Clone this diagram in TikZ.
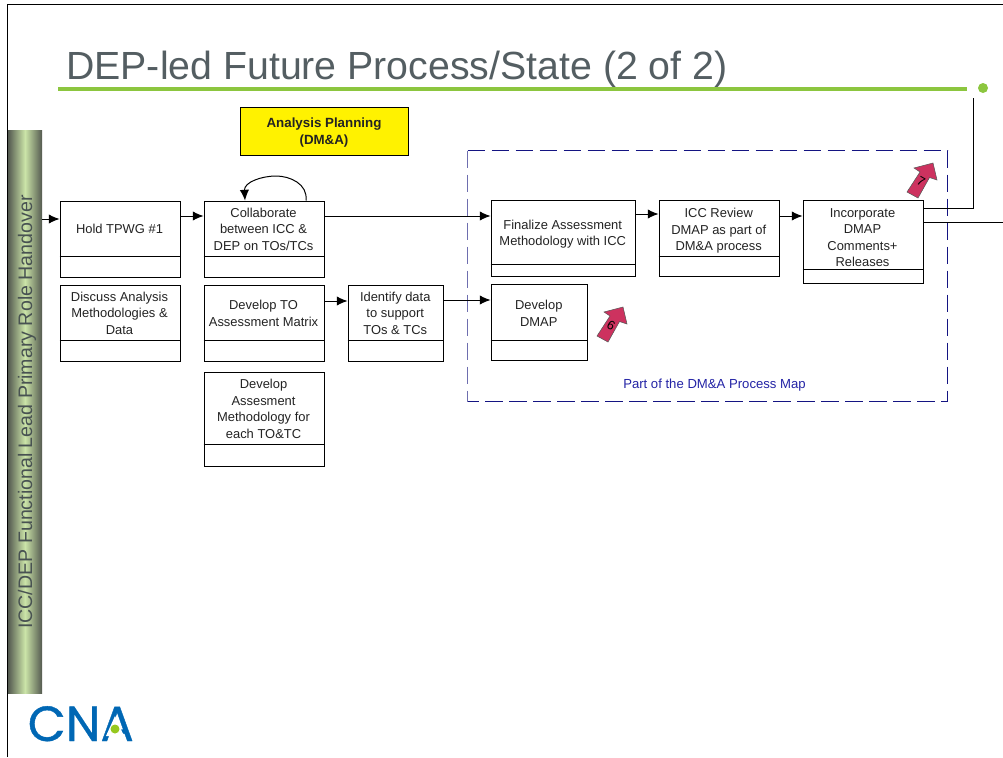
\documentclass[tikz,border=0pt]{standalone}
\usepackage{fontspec}
\setmainfont{Liberation Sans}
\newfontfamily\logofont[FakeBold=0.8]{Poppins}
\usetikzlibrary{arrows.meta}
\definecolor{titlegrey}{RGB}{84,94,98}
\definecolor{rulegreen}{RGB}{140,198,63}
\definecolor{boxtext}{RGB}{35,35,35}
\definecolor{navyline}{RGB}{20,20,130}
\definecolor{paleline}{RGB}{110,110,175}
\definecolor{mapblue}{RGB}{35,35,165}
\definecolor{bandedge}{RGB}{84,90,80}
\definecolor{bandmid}{RGB}{203,228,168}
\definecolor{bandtext}{RGB}{72,82,82}
\definecolor{cnablue}{RGB}{0,103,180}
\definecolor{cnagreen}{RGB}{150,200,30}
\definecolor{badge}{RGB}{205,50,95}
\tikzset{
  boxshape/.style={draw=black,line width=0.75pt,fill=white,inner sep=0pt,anchor=north west},
  boxlabel/.style={font=\fontsize{9.7}{12.4}\selectfont,text=boxtext,align=center,inner sep=0pt},
  flow/.style={draw=black,line width=0.75pt,-{Latex[length=8pt,width=7pt]}},
  plainline/.style={draw=black,line width=0.75pt},
  mapframe/.style={line width=0.9pt,dash pattern=on 13pt off 5pt},
  badgearrow/.style={fill=badge,draw=black!65,line width=0.4pt},
  badgenum/.style={font=\fontsize{9.5}{10}\selectfont,text=black,inner sep=0pt,rotate=-30},
}
% name, x1, y1, x2, y2, divider y, text offset, text
\newcommand{\procbox}[8]{%
  \pgfmathsetmacro{\bw}{(#4-#2)*0.75}%
  \pgfmathsetmacro{\bh}{(#5-#3)*0.75}%
  \pgfmathsetmacro{\bc}{(#3+#6)/2+1+#7}%
  \pgfmathsetmacro{\bm}{(#2+#4)/2}%
  \node[boxshape,minimum width=\bw pt,minimum height=\bh pt] (#1) at (#2,#3) {};
  \draw[plainline] (#1.west |- 0,#6) -- (#1.east |- 0,#6);
  \node[boxlabel] (#1-text) at (\bm,\bc) {#8};
}
% name, dx, dy, digit
\newcommand{\badgearrow}[4]{%
  \begin{scope}[shift={(#2,#3)}]
    \fill[badgearrow] (623,307) -- (604,312) -- (610,316) -- (597,336) -- (608,342) -- (619.5,321.5) -- (627,324) -- cycle;
    \node[badgenum] (#1) at (611,325) {#4};
  \end{scope}
}
\begin{document}
\begin{tikzpicture}[x=0.75pt,y=-0.75pt]
\useasboundingbox (0,0) rectangle (1003,757);
% slide border
\draw[line width=0.75pt] (7,757) -- (7,4.5) -- (1003,4.5);
% title
\node[anchor=base west,inner sep=0pt,font=\fontsize{29.45}{36}\selectfont,text=titlegrey] (title) at (66,79) {DEP-led Future Process/State (2 of 2)};
\coordinate (ruleL) at (58,89);
\coordinate (ruleR) at (967,89);
\draw[rulegreen,line width=3pt] (ruleL) -- (ruleR);
\fill[rulegreen] (983,88) circle (5);
% band
\shade[left color=bandedge,right color=bandedge,middle color=bandmid] (8,130) rectangle (42,693);
\node[rotate=90,font=\fontsize{14.7}{16}\selectfont,text=bandtext,inner sep=0pt] (band) at (27,412) {ICC/DEP Functional Lead Primary Role Handover};
\coordinate (bandout) at (42,219);
% yellow box
\node[draw=black,line width=0.75pt,fill=yellow,inner sep=0pt,anchor=north west,minimum width=126pt,minimum height=36pt] (plan) at (239.5,106.5) {};
\node[align=center,inner sep=0pt,font=\fontsize{10}{12.4}\selectfont\bfseries,text=boxtext] (plan-text) at (324,132.5) {Analysis Planning\\(DM\&A)};
% dashed frame
\draw[navyline,mapframe] (467.5,150.5) -- (947.5,150.5) -- (947.5,401.5) -- (467.5,401.5);
\draw[paleline,mapframe] (467.5,150.5) -- (467.5,401.5);
\node[font=\fontsize{9.85}{11}\selectfont,text=mapblue,inner sep=0pt] (maplabel) at (714.5,385) {Part of the DM\&A Process Map};
% boxes
\begin{scope}[shift={(-1,-1)}]
\procbox{hold}{60.5}{201.5}{180.5}{278}{257}{0}{Hold TPWG \#1}
\procbox{collab}{204.5}{201.5}{324.5}{278}{257}{0}{Collaborate\\between ICC \&\\DEP on TOs/TCs}
\procbox{discuss}{60.5}{285.5}{180.5}{362}{341}{0}{Discuss Analysis\\Methodologies \&\\Data}
\procbox{matrix}{204.5}{285.5}{324.5}{362}{341}{0}{Develop TO\\Assessment Matrix}
\procbox{method}{204.5}{372.5}{324.5}{466.5}{445}{0}{Develop\\Assesment\\Methodology for\\each TO\&TC}
\procbox{identify}{348.5}{285.5}{444}{362}{341}{0}{Identify data\\to support\\TOs \& TCs}
\procbox{finalize}{491.5}{200.5}{636}{277}{265}{1.5}{Finalize Assessment\\Methodology with ICC}
\procbox{dmap}{491.5}{284.5}{588}{361}{341}{0.5}{Develop\\DMAP}
\procbox{review}{659.5}{200.5}{780}{277}{257}{2}{ICC Review\\DMAP as part of\\DM\&A process}
\procbox{incorp}{803.5}{200.5}{923.5}{283.5}{270}{2.5}{Incorporate\\DMAP\\Comments+\\Releases}
\end{scope}
% connectors
\draw[flow] (bandout) -- (hold.west |- bandout);
\draw[flow] (hold.east |- 0,216) -- (collab.west |- 0,216);
\draw[flow] (collab.east |- 0,216) -- (finalize.west |- 0,216);
\draw[flow] (finalize.east |- 0,214) -- (review.west |- 0,214);
\draw[flow] (review.east |- 0,216) -- (incorp.west |- 0,216);
\draw[flow] (matrix.east |- 0,301) -- (identify.west |- 0,301);
\draw[flow] (identify.east |- 0,300) -- (dmap.west |- 0,300);
\coordinate (loopA) at (306,200.5);
\coordinate (loopB) at (245,200.5);
\draw[flow] (loopA) .. controls (308,184) and (290,176) .. (276,176) .. controls (262,176) and (244,182) .. (loopB);
\coordinate (upend) at (973,98);
\coordinate (exitR) at (1003,222);
\draw[plainline] (incorp.east |- 0,208.5) -| (upend);
\draw[plainline] (incorp.east |- exitR) -- (exitR);
% badges
\badgearrow{six}{0}{0}{6}
\badgearrow{seven}{310}{-144}{7}
% logo
\node[anchor=base west,inner sep=0pt,font=\logofont\fontsize{37}{40}\selectfont,text=cnablue] (logo) at (27.5,741) {CNA};
\fill[white] (115,716) -- (106,736) -- (124,736) -- cycle;
\fill[cnagreen] (115,729) circle (4.5);
\end{tikzpicture}
\end{document}
